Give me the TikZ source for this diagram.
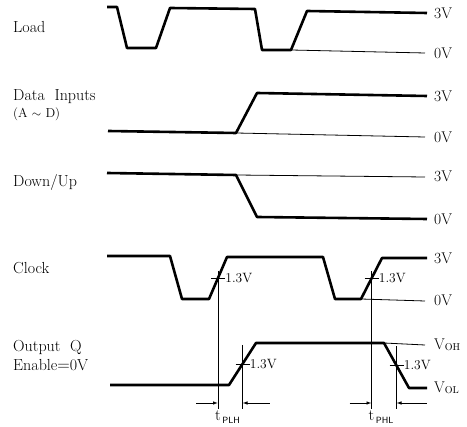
\documentclass[tikz,border=0pt]{standalone}
\usepackage{amsmath}
\usetikzlibrary{arrows.meta}
\tikzset{
  wave/.style={line width=2.6pt, line join=round},
  level/.style={line width=0.8pt},
  guide/.style={line width=0.8pt},
  sig/.style={font=\fontsize{16}{18}\selectfont, anchor=west, inner sep=0pt},
  volt/.style={font=\fontsize{15.5}{18}\selectfont, anchor=west, inner sep=0pt},
  thr/.style={font=\fontsize{13.5}{14}\selectfont, anchor=west, inner sep=0pt},
  tarrow/.style={line width=0.8pt, -{Latex[length=5pt,width=3.5pt]}},
}
\newcommand{\vsub}[1]{V\raisebox{-1pt}{\fontsize{10}{10}\selectfont #1}}
\newcommand{\tsub}[1]{t\raisebox{-3pt}{\sffamily\fontsize{9}{9}\selectfont\,#1}}
\begin{document}
\begin{tikzpicture}[x=1pt,y=-1pt]
        \useasboundingbox (0,0) rectangle (467,427);

        % signal names
        \node[sig] (load) at (13,27) {Load};
        \node[sig] (data) at (13,97) {Data\ \ Inputs};
        \node[sig, font=\fontsize{13}{14}\selectfont] (datab) at (13,114) {(A\ $\sim$\ D)};
        \node[sig] (dnup) at (13,183) {Down/Up};
        \node[sig] (clk) at (13,268) {Clock};
        \node[sig] (outq) at (13,347) {Output\ \ Q};
        \node[sig] (enab) at (13,365) {Enable$=$0V};

        % Load
        \draw[wave] (107,7) -- (117,7) -- (127,48) -- (156,48) -- (170,8) -- (255,9)
              -- (262,50) -- (291,50) -- (307,11) -- (427,13);
        \draw[level] (291,50) -- (425,53);
        \node[volt] (l3v) at (434,13) {3V};
        \node[volt] (l0v) at (434,53) {0V};

        % Data inputs
        \draw[wave] (108,131) -- (236,133) -- (257,93) -- (427,96);
        \draw[level] (236,133) -- (425,137);
        \node[volt] (d3v) at (434,96) {3V};
        \node[volt] (d0v) at (434,137) {0V};

        % Down/Up
        \draw[wave] (107,173) -- (236,175) -- (257,217) -- (427,219);
        \draw[level] (236,175) -- (425,177);
        \node[volt] (u3v) at (434,176) {3V};
        \node[volt] (u0v) at (434,219) {0V};

        % Clock
        \draw[wave] (107,256) -- (170,256) -- (182,299) -- (209,299) -- coordinate (ck1) (227,257)
              -- (323,257) -- (335,299) -- (361,299) -- coordinate (ck2) (382,258) -- (427,258);
        \draw[level] (361,299) -- (425,301);
        \node[volt] (c3v) at (434,258) {3V};
        \node[volt] (c0v) at (434,300) {0V};

        % Output Q
        \draw[wave] (110,385) -- (229,385) -- coordinate (oq1) (256,343) -- (384,343)
              -- coordinate (oq2) (409,388) -- (427,388);
        \draw[level] (384,343) -- (425,345);
        \node[volt] (qoh) at (434,345) {\vsub{OH}};
        \node[volt] (qol) at (434,388) {\vsub{OL}};

        % 1.3V thresholds
        \foreach \c in {ck1,ck2,oq1,oq2} {
          \draw[guide] ([xshift=-7pt]\c) -- ([xshift=7pt]\c) node[thr] (\c lab) {1.3V};
        }

        % delay lines
        \coordinate (base) at (0,409);
        \coordinate (arr) at (0,403);
        \draw[guide] ([yshift=7pt]ck1) -- (ck1 |- base);
        \draw[guide] ([yshift=7pt]ck2) -- (ck2 |- base);
        \draw[guide] ([yshift=19pt]oq1) -- (oq1 |- base);
        \draw[guide] ([yshift=19pt]oq2) -- (oq2 |- base);

        \coordinate (plhL) at (ck1 |- arr);
        \coordinate (plhR) at (oq1 |- arr);
        \coordinate (phlL) at (ck2 |- arr);
        \coordinate (phlR) at (oq2 |- arr);
        \draw[tarrow] ([xshift=-22pt]plhL) -- (plhL);
        \draw[tarrow] ([xshift=27pt]plhR) -- (plhR);
        \draw[tarrow] ([xshift=-22pt]phlL) -- (phlL);
        \draw[tarrow] ([xshift=30pt]phlR) -- (phlR);

        \node[anchor=north west, inner sep=0pt, font=\fontsize{16}{18}\selectfont] (tplh) at ([xshift=-3pt,yshift=-1pt]ck1 |- base) {\tsub{PLH}};
        \node[anchor=north west, inner sep=0pt, font=\fontsize{16}{18}\selectfont] (tphl) at ([xshift=-3pt,yshift=-1pt]ck2 |- base) {\tsub{PHL}};
\end{tikzpicture}
\end{document}
